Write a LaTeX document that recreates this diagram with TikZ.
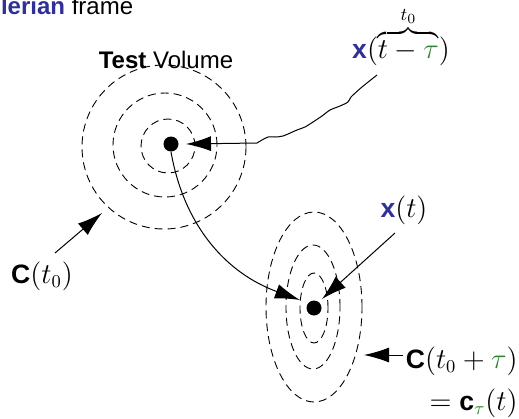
\documentclass[tikz,border=0pt]{standalone}
\usepackage{fontspec}
\setsansfont{Liberation Sans}
\usetikzlibrary{arrows.meta}
\definecolor{eblue}{RGB}{48,48,150}
\definecolor{tgreen}{RGB}{50,130,50}
\begin{document}
\begin{tikzpicture}[x=0.5pt,y=-0.5pt,
  font=\sffamily\fontsize{12}{14}\selectfont,
  dashc/.style={dash pattern=on 4pt off 2.5pt, line width=0.45pt},
  arr/.style={-{Latex[length=12.5pt,width=7.5pt]}, line width=0.5pt},
  dot/.style={circle, fill, inner sep=0pt, minimum size=7.5pt},
  lbl/.style={inner sep=0pt, anchor=base},
  mlbl/.style={lbl, font=\sffamily\fontsize{13.3}{15}\selectfont}]
\useasboundingbox (0,0) rectangle (519,418);

% title (partly cut at the left edge)
\node[lbl, anchor=base west] (title) at (-30,14) {{\color{eblue}\textbf{Eulerian}} frame};

% test volume circles
\node[lbl] (tv) at (166,68) {\textbf{Test} Volume};
\draw[dashc] (164,147) circle[radius=41pt];
\draw[dashc] (165,145) circle[radius=26pt];
\draw[dashc] (168,146) circle[radius=13.5pt];
\node[dot] (A) at (171,144) {};

% deformed volume ellipses
\draw[dashc] (314,307) ellipse[x radius=24pt, y radius=47.5pt];
\draw[dashc] (313,307) ellipse[x radius=13.5pt, y radius=31pt];
\draw[dashc] (314,308) ellipse[x radius=7pt, y radius=17.5pt];
\node[dot] (B) at (314,308) {};

% labels
\node[mlbl] (xtt) at (401,58) {$\textsf{\textbf{\color{eblue}x}}(\overbrace{t-{\color{tgreen}\tau}}^{t_0})$};
\node[mlbl] (xt) at (404,217) {$\textsf{\textbf{\color{eblue}x}}(t)$};
\node[mlbl] (ct0) at (42,283) {$\textsf{\textbf{C}}(t_0)$};
\node[mlbl, anchor=base east] (ctt) at (518,368) {$\textsf{\textbf{C}}(t_0+{\color{tgreen}\tau})$};
\node[mlbl, anchor=base east] (ctau) at (518,410) {$=\textsf{\textbf{c}}_{\color{tgreen}\tau}(t)$};

% coordinates
\coordinate (w0) at (377,75);
\coordinate (w1) at (257,143);
\coordinate (tA) at (186,144);
\coordinate (tB1) at (300,300);
\coordinate (xs) at (395,233);
\coordinate (tB2) at (322,299);
\coordinate (cs) at (403,355);
\coordinate (ce) at (364,355);
\coordinate (c0s) at (55,253);
\coordinate (c0e) at (102,213);

% connectors
\draw[line width=0.5pt] plot[smooth, tension=0.45] coordinates {(377,75) (362,87) (351,97) (348,102) (340,106) (330,110) (322,116) (313,122) (305,127) (297,130) (283,136) (275,137) (268,137) (262,140) (257,143)};
\draw[arr] (w1) -- (tA);
\draw[arr] (A.south) to[out=-80, in=160] (tB1);
\draw[arr] (xs) -- (tB2);
\draw[arr] (cs) -- (ce);
\draw[arr] (c0s) -- (c0e);
\end{tikzpicture}
\end{document}
